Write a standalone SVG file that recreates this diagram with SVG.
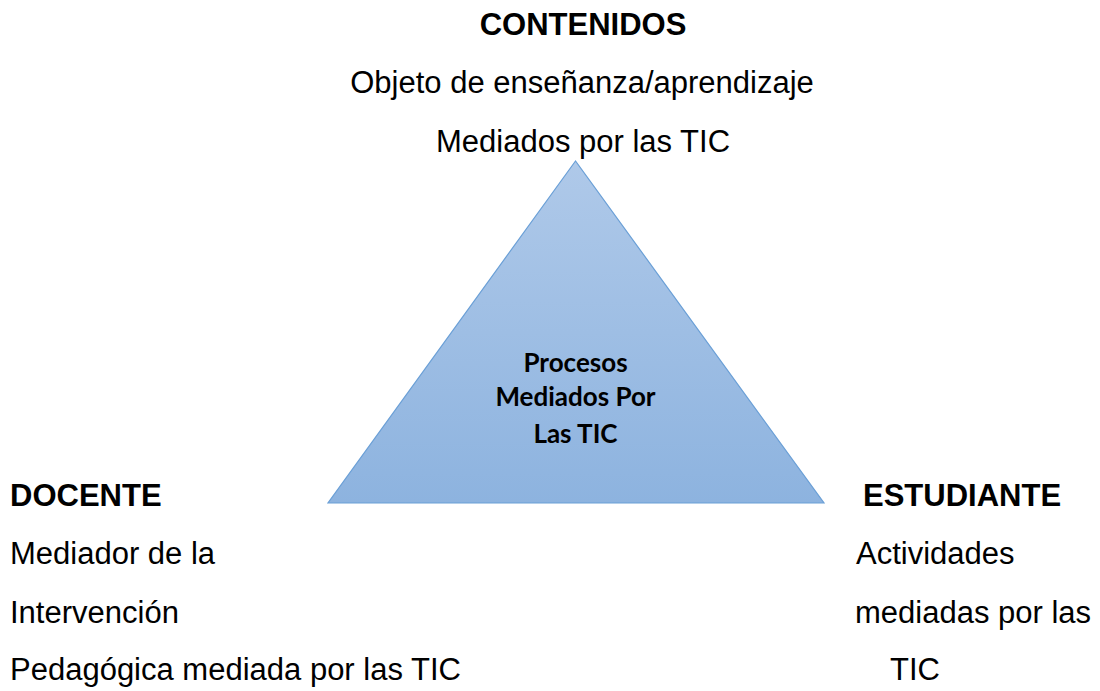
<svg xmlns="http://www.w3.org/2000/svg" width="1100" height="691" viewBox="0 0 1100 691">
<defs>
<linearGradient id="tri" x1="0" y1="0" x2="0" y2="1">
<stop offset="0" stop-color="#afc9e9"/>
<stop offset="1" stop-color="#8db3df"/>
</linearGradient>
<style>
.t{font-family:"Liberation Sans",Arial,sans-serif;font-size:31px;fill:#000}
.b{font-weight:bold}
.c{font-family:Lato,"Open Sans",sans-serif;font-weight:bold;font-size:26px;fill:#000;text-anchor:middle}
</style>
</defs>
<rect width="1100" height="691" fill="#fff"/>
<g id="triangle">
<polygon points="575.5,161 328,503 824,503" fill="url(#tri)" stroke="#6a9fd6" stroke-width="1.2"/>
<text class="c" x="575.5" y="372">Procesos</text>
<text class="c" x="575.5" y="406">Mediados Por</text>
<text class="c" x="575.5" y="443">Las TIC</text>
</g>
<g id="contenidos">
<text class="t b" x="583" y="35" text-anchor="middle">CONTENIDOS</text>
<text class="t" x="582" y="93" text-anchor="middle">Objeto de enseñanza/aprendizaje</text>
<text class="t" x="583" y="152" text-anchor="middle">Mediados por las TIC</text>
</g>
<g id="docente">
<text class="t b" x="10" y="506">DOCENTE</text>
<text class="t" x="10" y="564">Mediador de la</text>
<text class="t" x="10" y="623">Intervención</text>
<text class="t" x="10" y="680">Pedagógica mediada por las TIC</text>
</g>
<g id="estudiante">
<text class="t b" x="863" y="506">ESTUDIANTE</text>
<text class="t" x="856" y="564">Actividades</text>
<text class="t" x="855" y="623">mediadas por las</text>
<text class="t" x="890" y="680">TIC</text>
</g>
<g id="connectors"/>
</svg>
